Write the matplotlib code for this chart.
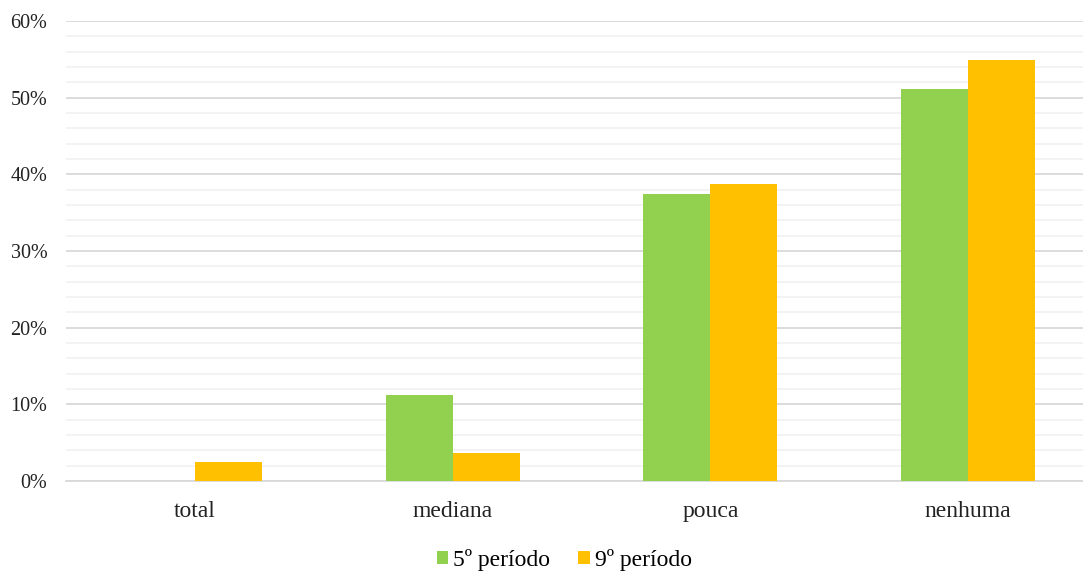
import numpy as np
import matplotlib
matplotlib.use('Agg')
import matplotlib.pyplot as plt
from matplotlib.ticker import MultipleLocator, FuncFormatter

plt.rcParams['font.family'] = ['Liberation Serif', 'DejaVu Serif']

# data (percent)
categories = ['total', 'mediana', 'pouca', 'nenhuma']
series_names = ['5º período', '9º período']
p5 = [0.0, 11.2, 37.5, 51.2]
p9 = [2.5, 3.7, 38.7, 54.9]
colors = ['#92D050', '#FFC000']

fig = plt.figure(figsize=(10.83, 5.72), dpi=100)
ax = fig.add_axes([0.061, 0.159, 0.952, 0.804])

x = np.arange(len(categories))
w = 0.26
ax.bar(x - w/2, p5, w, color=colors[0], label=series_names[0], zorder=3)
ax.bar(x + w/2, p9, w, color=colors[1], label=series_names[1], zorder=3)

ax.set_xlim(-0.5, len(categories) - 0.5)
ax.set_ylim(0, 60)
ax.yaxis.set_major_locator(MultipleLocator(10))
ax.yaxis.set_minor_locator(MultipleLocator(2))
ax.yaxis.set_major_formatter(FuncFormatter(lambda v, p: '%d%%' % v))
ax.grid(axis='y', which='major', color='#D9D9D9', linewidth=1.3, zorder=0)
ax.grid(axis='y', which='minor', color='#F2F2F2', linewidth=1.3, zorder=0)
ax.set_xticks(x)
ax.set_xticklabels(categories)
ax.tick_params(axis='both', which='both', length=0, colors='#222222')
ax.tick_params(axis='x', pad=14.5, labelsize=17)
ax.tick_params(axis='y', pad=13.5, labelsize=14.5)
for s in ['top', 'right', 'left']:
    ax.spines[s].set_visible(False)
ax.spines['bottom'].set_color('#D9D9D9')
ax.spines['bottom'].set_linewidth(1.3)

fig.legend(loc='center', bbox_to_anchor=(0.521, 0.021), ncol=2, frameon=False,
           fontsize=17, handlelength=0.5, handleheight=0.5, handletextpad=0.2,
           columnspacing=1.2)

plt.savefig('out.png', dpi=100)
